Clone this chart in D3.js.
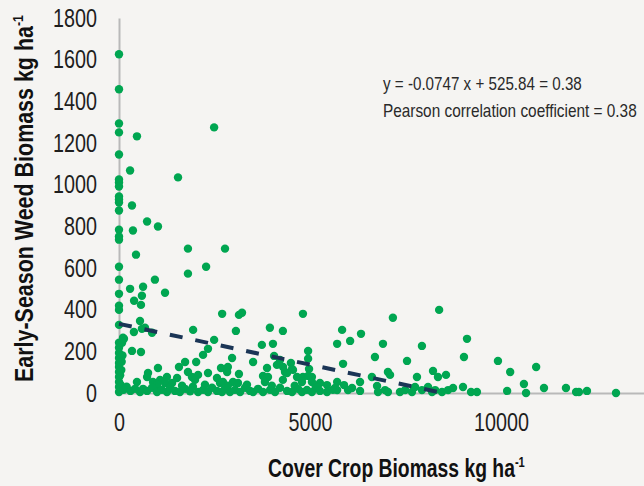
<!DOCTYPE html>
<html>
<head>
<meta charset="utf-8">
<script src="https://cdn.jsdelivr.net/npm/d3@7"></script>
<style>
  html, body { margin: 0; padding: 0; background: #f5f4f2; }
  svg { display: block; }
  text { font-family: "Liberation Sans", "Roboto", sans-serif; }
</style>
</head>
<body>
<div id="chart"></div>
<script>
// ---------- data (cover crop biomass kg/ha, early-season weed biomass kg/ha) ----------
const yTicks = [0, 200, 400, 600, 800, 1000, 1200, 1400, 1600, 1800];
const xTicks = [0, 5000, 10000];

const zeroCover = [[0,1626],[0,1458],[0,1294],[0,1251],[0,1145],[0,1025],[0,1011],[0,991],[0,943],[0,929],[0,914],[0,876],[0,784],[0,751],[0,736],[0,606],[0,544],[0,476],[0,419],[0,399],[0,327],[0,241],[0,217],[0,192],[0,168],[0,144],[0,125],[0,101],[0,77],[0,53],[0,29],[0,5],
  [105,265],[80,241],[130,260],[60,110],[90,180],[40,40],[70,150],[30,85]];

const highWeed = [[470,1232],[2490,1275],[290,1068],[1545,1035],[340,900],[735,823],[1020,799],[365,780],[1805,693],[2775,693],[445,664],[2280,606],[1805,573],[940,544],[290,500],[630,510],[600,467],[1205,481],[395,443],[575,423]];

const midWeed = [[2700,380],[3140,375],[3220,385],[550,346],[390,293],[600,308],[865,289],[680,313],[1940,303],[3060,298],[3950,313],[4290,298],[2490,255],[340,202],[575,197],[2330,212],[2200,183],[2020,149],[1730,149],[1570,125],[1020,120],[2960,168],[3510,149],[3740,231],[4030,236],[4060,178],[4215,159],[2670,120],[2850,125],[2830,101],[4500,144],[4555,111],[4815,380],[7170,361],[8380,399],[5840,303],[6335,284],[5710,236],[6050,250],[6910,236],[7930,226],[9110,260],[9030,173],[4950,202],[6700,173],[5865,140],[7540,154],[4950,165],[4975,115],[4345,101],[4290,63],[4815,77],[5050,77],[6620,77],[7040,101],[7095,87],[8220,106],[8560,87],[8350,77],[7800,77],[6310,53],[9005,29],[6755,34],[5890,38],[5710,53]];

const lowWeed = [[760,96],[735,77],[470,53],[890,53],[1075,63],[1255,77],[1205,48],[1390,48],[1520,72],[1805,101],[1910,77],[1990,63],[2070,87],[2330,96],[2565,72],[2645,48],[3140,91],[3875,120],[4135,135],[4295,125],[4530,115],[4400,96],[3770,82],[3900,77],[3820,53],[4660,77],[4790,53],[5050,53],[5260,48],[5445,38],[5710,14],[2720,53],[2985,53],[3115,48],[4950,82],
  [1000,40],[1650,35],[2250,40],[2850,35],[3350,40],[4000,35],[4600,35],[5150,30]];

const nearZero = [[550,5],[630,20],[735,10],[865,25],[995,5],[1125,15],[1255,5],[1335,25],[1465,10],[1595,5],[1730,20],[1860,8],[1935,30],[2070,5],[2200,15],[2330,5],[2435,25],[2565,10],[2695,5],
  [2775,20],[2905,5],[3035,15],[3170,5],[3300,25],[3430,10],[3510,5],[3640,20],[3770,5],[3955,15],[4085,5],[4215,25],[4400,10],[4530,5],[4685,20],[4790,5],[4920,15],[5050,5],[5185,25],[5260,10],[5445,5],[5600,15],
  [5655,24],[5995,14],[6100,24],[6310,10],[6965,14],[7040,5],[6780,5],[7355,5],[7490,14],[7750,29],[7670,5],[7930,14],[8090,29],[8195,5],[8275,14],[8455,5],[8615,14],[8745,24],
  [120,15],[200,30],[300,10],[420,20]];

const highCover = [[9920,154],[10240,101],[10920,125],[10600,43],[9215,5],[9370,5],[10160,10],[10655,0],[11125,24],[11700,24],[11965,5],[12040,5],[12250,10],[13010,0]];

const trendLine = [[0,332],[8480,0]];

const equationText = "y = -0.0747 x + 525.84 = 0.38";
const pearsonText = "Pearson correlation coefficient = 0.38";

// ---------- chart ----------
const W = 644, H = 486;
const svg = d3.select("#chart").append("svg").attr("width", W).attr("height", H);
svg.append("rect").attr("width", W).attr("height", H).attr("fill", "#f5f4f2");

const x = d3.scaleLinear().domain([0, 13743]).range([119, 644]);
const y = d3.scaleLinear().domain([0, 1800]).range([393, 18]);

const axisColor = "#b9b9b9";

const gy = svg.append("g").attr("transform", "translate(119,0)")
  .call(d3.axisLeft(y).tickValues(yTicks).tickSize(0).tickPadding(22).tickFormat(d3.format("d")));
const gx = svg.append("g").attr("transform", "translate(0,393)")
  .call(d3.axisBottom(x).tickValues(xTicks).tickSize(0).tickPadding(20).tickFormat(d3.format("d")));

[gx, gy].forEach(g => {
  g.select(".domain").attr("stroke", axisColor).attr("stroke-width", 2);
  g.selectAll("text").attr("font-size", 25).attr("fill", "#1e1e1e")
    .attr("font-family", "'Liberation Sans', sans-serif");
});

// condense tick labels: "1800" should be ~44px wide
let kTick = 0.78;
{
  const n = gy.selectAll("text").filter(d => d === 1800).node();
  if (n) kTick = 44 / n.getComputedTextLength();
}
gy.selectAll("text").attr("x", 0).attr("transform", `translate(-22,0) scale(${kTick},1)`);
gx.selectAll("text").attr("transform", `scale(${kTick},1)`);

const allPoints = [].concat(zeroCover, highWeed, midWeed, lowWeed, nearZero, highCover);

svg.append("g").selectAll("circle").data(allPoints).join("circle")
  .attr("cx", d => x(d[0])).attr("cy", d => y(d[1])).attr("r", 4.2)
  .attr("fill", "#00a651");

svg.append("path")
  .attr("d", d3.line().x(d => x(d[0])).y(d => y(d[1]))(trendLine))
  .attr("fill", "none").attr("stroke", "#1b3556").attr("stroke-width", 4)
  .attr("stroke-dasharray", "13,13");

// fitted text helper: places text at (ax, ay) and condenses it to targetWidth
function fitted(parent, ax, ay, targetW, build, rotate) {
  const g = parent.append("g");
  const t = g.append("text");
  build(t);
  const w = t.node().getComputedTextLength();
  const k = targetW / w;
  g.attr("transform", `translate(${ax},${ay})${rotate ? " rotate(-90)" : ""} scale(${k},1)`);
  return g;
}

// annotation
fitted(svg, 383, 90, 199, t => t.attr("font-size", 18).attr("fill", "#2a2a2a").text(equationText));
fitted(svg, 383, 117, 254, t => t.attr("font-size", 18).attr("fill", "#2a2a2a").text(pearsonText));

// axis titles
function titleBuild(main) {
  return t => {
    t.attr("font-size", 26).attr("font-weight", "bold").attr("fill", "#111");
    t.append("tspan").text(main);
    t.append("tspan").attr("font-size", 15).attr("dy", -10).text("-1");
  };
}
fitted(svg, 268, 477, 257, titleBuild("Cover Crop Biomass kg ha"));
fitted(svg, 33, 382, 367, titleBuild("Early-Season Weed Biomass kg ha"), true);
</script>
</body>
</html>
